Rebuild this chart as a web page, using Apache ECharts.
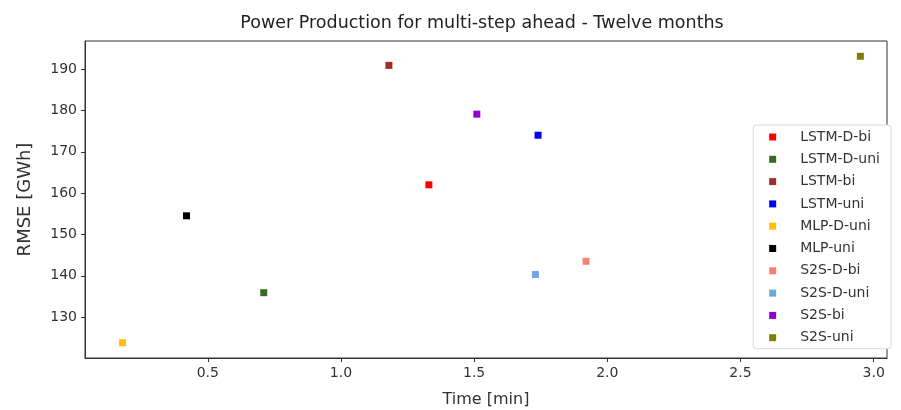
<!DOCTYPE html>
<html>
<head>
<meta charset="utf-8">
<script src="https://cdn.jsdelivr.net/npm/echarts@6/dist/echarts.min.js"></script>
<style>
    html, body { margin: 0; padding: 0; background: #fff; }
    #chart { width: 901px; height: 410px; }
</style>
</head>
<body>
<div id="chart"></div>
<script>
// model names, one scatter point each
const models = ['LSTM-D-bi', 'LSTM-D-uni', 'LSTM-bi', 'LSTM-uni', 'MLP-D-uni', 'MLP-uni', 'S2S-D-bi', 'S2S-D-uni', 'S2S-bi', 'S2S-uni'];
const timeMin = [1.33, 0.71, 1.18, 1.74, 0.18, 0.42, 1.92, 1.73, 1.51, 2.95];
const rmseGWh = [162.0, 135.9, 190.9, 174.0, 123.8, 154.5, 143.5, 140.3, 179.1, 193.1];
const colors = ['#ff0000', '#3b6b21', '#a52a2a', '#0000ff', '#ffc000', '#000000', '#fa8072', '#6fa8dc', '#9400d3', '#808000'];
const xTicks = [0.5, 1.0, 1.5, 2.0, 2.5, 3.0];
const yTicks = [130, 140, 150, 160, 170, 180, 190];

const font = 'DejaVu Sans';
const chart = echarts.init(document.getElementById('chart'));

const series = models.map((name, i) => ({
    name: name,
    type: 'scatter',
    symbol: 'rect',
    symbolSize: 7,
    itemStyle: { color: colors[i], opacity: 1 },
    data: [[timeMin[i], rmseGWh[i]]],
}));

chart.setOption({
    animation: false,
    title: {
        text: 'Power Production for multi-step ahead - Twelve months',
        left: 477,
        textAlign: 'center',
        top: 9,
        textStyle: { fontFamily: font, fontSize: 17.5, fontWeight: 'normal', color: '#222' },
    },
    grid: {
        left: 85, right: 14, top: 41, bottom: 52,
        outerBoundsMode: 'none',
        show: true, borderColor: '#333', borderWidth: 1, backgroundColor: '#fff',
    },
    legend: {
        orient: 'vertical',
        right: 10,
        top: 125,
        padding: [4, 11, 3, 16],
        itemWidth: 7,
        itemHeight: 7,
        itemGap: 6.3,
        backgroundColor: '#fff',
        borderColor: '#d8d8d8',
        borderWidth: 1,
        borderRadius: 3,
        textStyle: { fontFamily: font, fontSize: 14, color: '#333', lineHeight: 16, padding: [0, 0, 0, 19] },
        data: models.map((n) => ({ name: n, icon: 'rect' })),
    },
    xAxis: {
        type: 'value',
        min: 0.039,
        max: 3.05,
        name: 'Time [min]',
        nameLocation: 'middle',
        nameGap: 34,
        nameTextStyle: { fontFamily: font, fontSize: 16, color: '#333' },
        splitLine: { show: false },
        axisLine: { show: true, onZero: false, lineStyle: { color: '#333' } },
        axisTick: { show: true, length: 4, customValues: xTicks, lineStyle: { color: '#333' } },
        axisLabel: {
            customValues: xTicks,
            fontFamily: font, fontSize: 14, color: '#333', margin: 8,
            formatter: (v) => v.toFixed(1),
        },
    },
    yAxis: {
        type: 'value',
        min: 120.1,
        max: 196.8,
        name: 'RMSE [GWh]',
        nameLocation: 'middle',
        nameGap: 51,
        nameTextStyle: { fontFamily: font, fontSize: 18, color: '#333' },
        splitLine: { show: false },
        axisLine: { show: true, onZero: false, lineStyle: { color: '#333' } },
        axisTick: { show: true, length: 4, customValues: yTicks, lineStyle: { color: '#333' } },
        axisLabel: {
            customValues: yTicks,
            fontFamily: font, fontSize: 14, color: '#333', margin: 8,
        },
    },
    series: series,
});
</script>
</body>
</html>
